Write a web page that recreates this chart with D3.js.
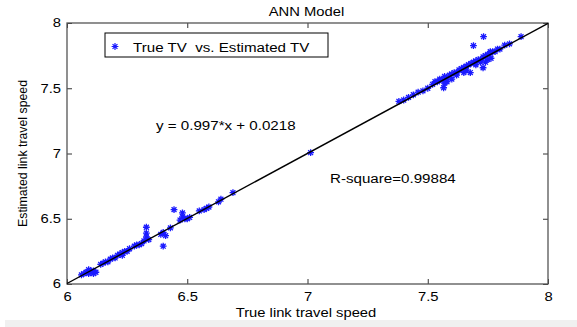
<!DOCTYPE html>
<html>
<head>
<meta charset="utf-8">
<script src="https://d3js.org/d3.v7.min.js"></script>
<style>
  body { margin: 0; background: #fff; }
  text { font-family: "Liberation Sans", Arial, sans-serif; fill: #000; white-space: pre; }
</style>
</head>
<body>
<div id="chart"></div>
<script>

// Chart values

const titleText = "ANN Model";
const xLabel = "True link travel speed";
const yLabel = "Estimated link travel speed";
const legendLabel = "True TV  vs. Estimated TV";
const fitText = "y = 0.997*x + 0.0218";
const r2Text = "R-square=0.99884";

const axisDomain = [6, 8];
const tickValues = [6, 6.5, 7, 7.5, 8];
const tickLabels = ["6", "6.5", "7", "7.5", "8"];

// fitted line y = slope*x + intercept
const slope = 0.997;
const intercept = 0.0218;

// True TV (x) and Estimated TV (y)
const trueTV = [
  6.06, 6.07, 6.08, 6.09, 6.10, 6.10, 6.11, 6.12, 6.11, 6.09,
  6.14, 6.15, 6.16, 6.17, 6.18, 6.19, 6.20, 6.21, 6.22, 6.23,
  6.23, 6.24, 6.25, 6.26, 6.28, 6.29, 6.30, 6.31, 6.32, 6.34,
  6.33, 6.33, 6.33, 6.40, 6.40, 6.41, 6.39, 6.43, 6.445, 6.48,
  6.48, 6.47, 6.49, 6.50, 6.51, 6.55, 6.57, 6.58, 6.59, 6.63,
  6.64, 6.69, 7.013,
  7.38, 7.40, 7.42, 7.44, 7.46, 7.48, 7.50, 7.52, 7.53, 7.54,
  7.55, 7.56, 7.57, 7.58, 7.59, 7.60, 7.61, 7.62, 7.63, 7.64,
  7.65, 7.66, 7.67, 7.68, 7.69, 7.70, 7.71, 7.72, 7.73, 7.74,
  7.75, 7.76, 7.77, 7.78, 7.79, 7.80, 7.82, 7.84, 7.888,
  7.732, 7.69, 7.76, 7.73, 7.677, 7.763, 7.566, 7.60, 7.62, 7.65,
  7.70, 7.72, 7.75, 7.74, 7.66, 7.58, 7.57
];
const estTV = [
  6.07, 6.08, 6.09, 6.08, 6.10, 6.09, 6.10, 6.09, 6.08, 6.11,
  6.15, 6.16, 6.17, 6.17, 6.19, 6.20, 6.20, 6.22, 6.23, 6.22,
  6.24, 6.25, 6.25, 6.27, 6.29, 6.30, 6.30, 6.31, 6.33, 6.34,
  6.435, 6.39, 6.36, 6.29, 6.395, 6.37, 6.38, 6.43, 6.57, 6.545,
  6.515, 6.49, 6.50, 6.50, 6.51, 6.56, 6.57, 6.58, 6.59, 6.63,
  6.65, 6.70, 7.006,
  7.40, 7.41, 7.43, 7.45, 7.47, 7.48, 7.50, 7.53, 7.55, 7.55,
  7.57, 7.56, 7.59, 7.58, 7.60, 7.61, 7.62, 7.62, 7.64, 7.65,
  7.66, 7.67, 7.68, 7.69, 7.70, 7.71, 7.72, 7.72, 7.74, 7.75,
  7.76, 7.77, 7.78, 7.78, 7.80, 7.80, 7.83, 7.84, 7.895,
  7.895, 7.826, 7.78, 7.657, 7.62, 7.73, 7.504, 7.57, 7.60, 7.62,
  7.68, 7.70, 7.72, 7.70, 7.64, 7.55, 7.54
];

const points = trueTV.map((v, i) => ({x: v, y: estTV[i]}));

// Layout
const width = 577;
const height = 327;
const plot = {left: 67, right: 548, top: 23, bottom: 284};
const stretch = 1.23; // picture is wider than tall, text looks stretched
const tickLen = 5;

const svg = d3.select("#chart")
  .append("svg")
  .attr("width", width)
  .attr("height", height);

// light strip at the very bottom
svg.append("rect")
  .attr("x", 5).attr("y", 320)
  .attr("width", width - 5).attr("height", 7)
  .attr("fill", "#f0f0f0");

const xScale = d3.scaleLinear().domain(axisDomain).range([plot.left, plot.right]);
const yScale = d3.scaleLinear().domain(axisDomain).range([plot.bottom, plot.top]);

// stretch a text element sideways like the reference
function widen(sel) {
  sel.each(function() {
    const w = this.getComputedTextLength();
    d3.select(this)
      .attr("textLength", w * stretch)
      .attr("lengthAdjust", "spacingAndGlyphs");
  });
  return sel;
}

/*
  Axes
*/

const tickFmt = (d, i) => tickLabels[i];

// bottom axis with inward ticks
const xAxis = svg.append("g")
  .attr("transform", `translate(0,${plot.bottom})`)
  .call(d3.axisBottom(xScale).tickValues(tickValues).tickFormat(tickFmt)
    .tickSizeInner(-tickLen).tickSizeOuter(0).tickPadding(8));

// top axis, ticks only
const xAxisTop = svg.append("g")
  .attr("transform", `translate(0,${plot.top})`)
  .call(d3.axisTop(xScale).tickValues(tickValues).tickFormat("")
    .tickSizeInner(-tickLen).tickSizeOuter(0));

// left axis
const yAxis = svg.append("g")
  .attr("transform", `translate(${plot.left},0)`)
  .call(d3.axisLeft(yScale).tickValues(tickValues).tickFormat(tickFmt)
    .tickSizeInner(-tickLen).tickSizeOuter(0).tickPadding(6));

// right axis, ticks only
const yAxisRight = svg.append("g")
  .attr("transform", `translate(${plot.right},0)`)
  .call(d3.axisRight(yScale).tickValues(tickValues).tickFormat("")
    .tickSizeInner(-tickLen).tickSizeOuter(0));

[xAxis, xAxisTop, yAxis, yAxisRight].forEach(g => {
  g.select(".domain").remove();
  g.selectAll(".tick line").attr("stroke", "#333");
  g.selectAll("text")
    .attr("font-size", "12px")
    .attr("font-family", "'Liberation Sans', Arial, sans-serif")
    .attr("fill", "#000");
});
xAxis.selectAll(".tick text").attr("dy", "0.71em").call(widen);
yAxis.selectAll(".tick text").call(widen);

// box around the plot
svg.append("rect")
  .attr("x", plot.left).attr("y", plot.top)
  .attr("width", plot.right - plot.left)
  .attr("height", plot.bottom - plot.top)
  .attr("fill", "none")
  .attr("stroke", "#555")
  .attr("stroke-width", 1.3);

/*
  Points: MATLAB style asterisks
*/

const r = 3.4;
const starPath = `M${-r},0H${r}M0,${-r}V${r}` +
  `M${-r * 0.72},${-r * 0.72}L${r * 0.72},${r * 0.72}` +
  `M${-r * 0.72},${r * 0.72}L${r * 0.72},${-r * 0.72}`;

svg.selectAll(".pt")
  .data(points)
  .enter()
  .append("path")
    .attr("class", "pt")
    .attr("transform", d => `translate(${xScale(d.x)},${yScale(d.y)})`)
    .attr("d", starPath)
    .attr("stroke", "#1a1aff")
    .attr("stroke-width", 1.3)
    .attr("fill", "none");

// fitted line over the points
const line = d3.line()
  .x(d => xScale(d))
  .y(d => yScale(slope * d + intercept));

svg.append("path")
  .datum(axisDomain)
  .attr("d", line)
  .attr("stroke", "#000")
  .attr("stroke-width", 1.4)
  .attr("fill", "none");

/*
  Legend
*/

svg.append("rect")
  .attr("x", 105).attr("y", 33)
  .attr("width", 223).attr("height", 24)
  .attr("fill", "#fff")
  .attr("stroke", "#000")
  .attr("stroke-width", 1);

svg.append("path")
  .attr("transform", "translate(115,46.5)")
  .attr("d", starPath)
  .attr("stroke", "#1a1aff")
  .attr("stroke-width", 1.2)
  .attr("fill", "none");

svg.append("text")
  .attr("x", 133).attr("y", 51.5)
  .attr("font-size", "12.3px")
  .attr("xml:space", "preserve")
  .text(legendLabel)
  .call(widen);

/*
  Labels and notes
*/

svg.append("text")
  .attr("x", 306.5).attr("y", 15.5)
  .attr("text-anchor", "middle")
  .attr("font-size", "12px")
  .text(titleText)
  .call(widen);

svg.append("text")
  .attr("x", 306).attr("y", 316.5)
  .attr("text-anchor", "middle")
  .attr("font-size", "12px")
  .text(xLabel)
  .call(widen);

svg.append("text")
  .attr("transform", "translate(26.5,153.5) rotate(-90)")
  .attr("text-anchor", "middle")
  .attr("font-size", "12.3px")
  .text(yLabel);

svg.append("text")
  .attr("x", 156).attr("y", 129.5)
  .attr("font-size", "12.3px")
  .text(fitText)
  .call(widen);

svg.append("text")
  .attr("x", 330).attr("y", 182.5)
  .attr("font-size", "12.3px")
  .text(r2Text)
  .call(widen);

</script>
</body>
</html>
